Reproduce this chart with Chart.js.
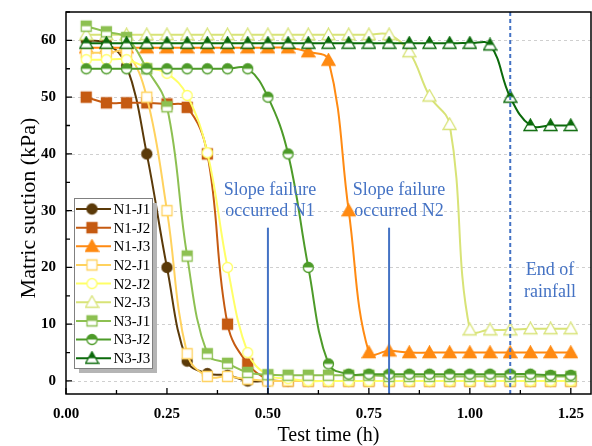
<!DOCTYPE html>
<html>
<head>
<meta charset="utf-8">
<script src="https://cdn.jsdelivr.net/npm/chart.js@4.4.0/dist/chart.umd.min.js"></script>
<style>
  html, body { margin: 0; padding: 0; background: #fff; }
</style>
</head>
<body>
<canvas id="chart" width="592" height="446"></canvas>
<script>
// test times (h)
const times = [0.05, 0.10, 0.15, 0.20, 0.25, 0.30, 0.35, 0.40, 0.45, 0.50, 0.55, 0.60, 0.65,
               0.70, 0.75, 0.80, 0.85, 0.90, 0.95, 1.00, 1.05, 1.10, 1.15, 1.20, 1.25];

// matric suction (kPa)
const n1j1 = [60, 59.5, 55.5, 40, 20, 3.5, 1.3, 1, 0, 0, 0, 0, 0, 0, 0, 0, 0, 0, 0, 0, 0, 0, 0, 0, 0];
const n1j2 = [50, 49, 49, 49, 48.8, 48.2, 40, 10, 3, 0.3, 0, 0, 0, 0, 0, 0, 0, 0, 0, 0, 0, 0, 0, 0, 0];
const n1j3 = [58.7, 58.7, 58.7, 58.7, 58.7, 58.7, 58.7, 58.7, 58.7, 58.7, 58.7, 58, 56.5,
              30, 5, 5.3, 5, 5, 5, 5, 5, 5, 5, 5, 5];
const n2j1 = [57.8, 57.8, 57.8, 50, 30, 4.8, 0.8, 0.8, 0.3, 0, 0, 0, 0, 0, 0, 0, 0, 0, 0, 0, 0, 0, 0, 0, 0];
const n2j2 = [56.6, 56.6, 56.6, 55.2, 54.2, 50.3, 40.2, 20, 5, 1, 0.4, 0, 0, 0, 0, 0, 0, 0, 0, 0, 0, 0, 0, 0, 0];
const n2j3 = [61, 61, 61, 61, 61, 61, 61, 61, 61, 61, 61, 61, 61, 61, 61, 61,
              58, 50.2, 45.2, 9, 9, 9, 9.2, 9.2, 9.2];
const n3j1 = [62.5, 61.5, 60.5, 55, 48.3, 22, 4.8, 3.1, 1.5, 1.1, 1, 1, 1, 1, 1,
              0.8, 0.8, 0.8, 0.8, 0.8, 0.8, 0.8, 0.8, 0.8, 0.8];
const n3j2 = [55, 55, 55, 55, 55, 55, 55, 55, 55, 50, 40, 20, 3,
              1.2, 1.2, 1.2, 1.2, 1.2, 1.2, 1.2, 1.2, 1.2, 1.2, 1, 1];
const n3j3 = [59.5, 59.5, 59.5, 59.5, 59.5, 59.5, 59.5, 59.5, 59.5, 59.5, 59.5, 59.5, 59.5,
              59.5, 59.5, 59.5, 59.5, 59.5, 59.5, 59.5, 59.2, 50, 45, 45, 45];

const xTicks = [0, 0.25, 0.5, 0.75, 1.0, 1.25];
const yTicks = [0, 10, 20, 30, 40, 50, 60];

const failureTimes = [0.5, 0.8];
const rainEndTime = 1.1;

const serif = "'Liberation Serif', 'Times New Roman', serif";
const blue = "#4472C4";

// marker images, half = top half filled
function makeMarker(shape, color, fill) {
  const s = 15, m = 7.5;
  const c = document.createElement("canvas");
  c.width = s; c.height = s;
  const g = c.getContext("2d");
  const path = () => {
    g.beginPath();
    if (shape === "circle") g.arc(m, m, 5, 0, Math.PI * 2);
    else if (shape === "rect") g.rect(m - 5, m - 5, 10, 10);
    else { g.moveTo(m, m - 6.5); g.lineTo(m + 6.5, m + 5); g.lineTo(m - 6.5, m + 5); g.closePath(); }
  };
  path();
  g.fillStyle = fill === "full" ? color : "#fff";
  g.fill();
  if (fill === "half") {
    g.save(); path(); g.clip();
    g.fillStyle = color; g.fillRect(0, 0, s, m);
    g.restore();
  }
  path();
  g.lineWidth = 1.3; g.strokeStyle = color; g.stroke();
  return c;
}

const series = [
  { label: "N1-J1", data: n1j1, color: "#5B3A09", shape: "circle", fill: "full" },
  { label: "N1-J2", data: n1j2, color: "#C55A11", shape: "rect", fill: "full" },
  { label: "N1-J3", data: n1j3, color: "#FF8A12", shape: "tri", fill: "full" },
  { label: "N2-J1", data: n2j1, color: "#FFD25E", shape: "rect", fill: "none" },
  { label: "N2-J2", data: n2j2, color: "#FFFF66", shape: "circle", fill: "none" },
  { label: "N2-J3", data: n2j3, color: "#D8E377", shape: "tri", fill: "none" },
  { label: "N3-J1", data: n3j1, color: "#8DC052", shape: "rect", fill: "half" },
  { label: "N3-J2", data: n3j2, color: "#4D9B29", shape: "circle", fill: "half" },
  { label: "N3-J3", data: n3j3, color: "#0B6A0B", shape: "tri", fill: "half" },
];
series.forEach(s => { s.marker = makeMarker(s.shape, s.color, s.fill); });

const decor = {
  id: "decor",
  beforeDatasetsDraw(chart) {
    const { ctx, chartArea: a, scales: { y } } = chart;
    ctx.save();
    ctx.strokeStyle = "#cfcfcf";
    ctx.lineWidth = 1;
    ctx.setLineDash([3, 3]);
    yTicks.forEach(v => {
      const py = Math.round(y.getPixelForValue(v)) + 0.5;
      ctx.beginPath(); ctx.moveTo(a.left, py); ctx.lineTo(a.right, py); ctx.stroke();
    });
    ctx.restore();
  },
  afterDatasetsDraw(chart) {
    const { ctx, chartArea: a, scales: { x, y } } = chart;
    ctx.save();
    // failure lines
    ctx.strokeStyle = blue;
    ctx.lineWidth = 2;
    failureTimes.forEach(t => {
      const px = x.getPixelForValue(t);
      ctx.beginPath(); ctx.moveTo(px, y.getPixelForValue(27)); ctx.lineTo(px, a.bottom); ctx.stroke();
    });
    ctx.setLineDash([4, 3]);
    const pr = x.getPixelForValue(rainEndTime);
    ctx.beginPath(); ctx.moveTo(pr, a.top); ctx.lineTo(pr, a.bottom); ctx.stroke();
    ctx.setLineDash([]);

    // notes
    ctx.fillStyle = blue;
    ctx.font = "18px " + serif;
    ctx.textAlign = "center";
    ctx.textBaseline = "middle";
    ctx.fillText("Slope failure", 270, 190);
    ctx.fillText("occurred N1", 270, 211);
    ctx.fillText("Slope failure", 399, 190);
    ctx.fillText("occurred N2", 399, 211);
    ctx.fillText("End of", 550, 270);
    ctx.fillText("rainfall", 550, 292);

    // frame + inward ticks
    ctx.strokeStyle = "#000";
    ctx.lineWidth = 1.5;
    ctx.strokeRect(a.left, a.top, a.right - a.left, a.bottom - a.top);
    ctx.lineWidth = 1.3;
    ctx.beginPath();
    for (let v = 0; v <= 1.3; v += 0.125) {
      const px = x.getPixelForValue(v);
      const len = Math.abs(v / 0.25 - Math.round(v / 0.25)) < 1e-6 ? 6 : 4;
      ctx.moveTo(px, a.bottom); ctx.lineTo(px, a.bottom - len);
    }
    for (let v = 0; v <= 65; v += 5) {
      const py = y.getPixelForValue(v);
      const len = v % 10 === 0 ? 6 : 4;
      ctx.moveTo(a.left, py); ctx.lineTo(a.left + len, py);
    }
    ctx.stroke();

    // axis titles
    ctx.fillStyle = "#000";
    ctx.font = "20px " + serif;
    ctx.fillText("Test time (h)", (a.left + a.right) / 2, 436);
    ctx.save();
    ctx.font = "22px " + serif;
    ctx.translate(29, (a.top + a.bottom) / 2 + 5);
    ctx.rotate(-Math.PI / 2);
    ctx.fillText("Matric suction (kPa)", 0, 0);
    ctx.restore();

    // legend
    const lx = 74, ly = 198, lw = 78, lh = 170;
    ctx.fillStyle = "#b5b5b5";
    ctx.fillRect(lx + 5, ly + 5, lw, lh);
    ctx.fillStyle = "#fff";
    ctx.fillRect(lx, ly, lw, lh);
    ctx.strokeStyle = "#808080";
    ctx.lineWidth = 1;
    ctx.strokeRect(lx + 0.5, ly + 0.5, lw, lh);
    ctx.font = "15px " + serif;
    ctx.textAlign = "left";
    series.forEach((s, i) => {
      const yy = 209 + i * 18.65;
      ctx.strokeStyle = s.color;
      ctx.lineWidth = 2;
      ctx.beginPath(); ctx.moveTo(76, yy); ctx.lineTo(111, yy); ctx.stroke();
      ctx.drawImage(s.marker, 92 - s.marker.width / 2, yy - s.marker.height / 2);
      ctx.fillStyle = "#000";
      ctx.fillText(s.label, 113.5, yy + 1);
    });
    ctx.restore();
  }
};

new Chart(document.getElementById("chart"), {
  type: "line",
  data: {
    datasets: series.map((s, i) => ({
      label: s.label,
      data: times.map((t, k) => ({ x: t, y: s.data[k] })),
      borderColor: s.color,
      backgroundColor: s.color,
      borderWidth: 2,
      tension: 0.4,
      pointStyle: s.marker,
      pointRadius: 6,
      order: series.length - i,
    })),
  },
  options: {
    responsive: false,
    animation: false,
    layout: { autoPadding: false, padding: { top: 12, right: 1, left: 0, bottom: 0 } },
    plugins: { legend: { display: false }, tooltip: { enabled: false } },
    scales: {
      x: {
        type: "linear",
        min: 0,
        max: 1.3,
        afterBuildTicks: s => { s.ticks = xTicks.map(v => ({ value: v })); },
        afterFit: s => { s.height = 52; s.paddingLeft = 0; s.paddingRight = 0; },
        grid: { display: false, drawTicks: false },
        border: { display: false },
        ticks: {
          padding: 11,
          color: "#000",
          font: { family: serif, size: 15, weight: "bold" },
          callback: v => v.toFixed(2),
        },
      },
      y: {
        min: -2.3,
        max: 65,
        afterBuildTicks: s => { s.ticks = yTicks.map(v => ({ value: v })); },
        afterFit: s => { s.width = 66; s.paddingTop = 0; s.paddingBottom = 0; },
        grid: { display: false, drawTicks: false },
        border: { display: false },
        ticks: {
          padding: 10,
          color: "#000",
          font: { family: serif, size: 15, weight: "bold" },
        },
      },
    },
  },
  plugins: [decor],
});
</script>
</body>
</html>
